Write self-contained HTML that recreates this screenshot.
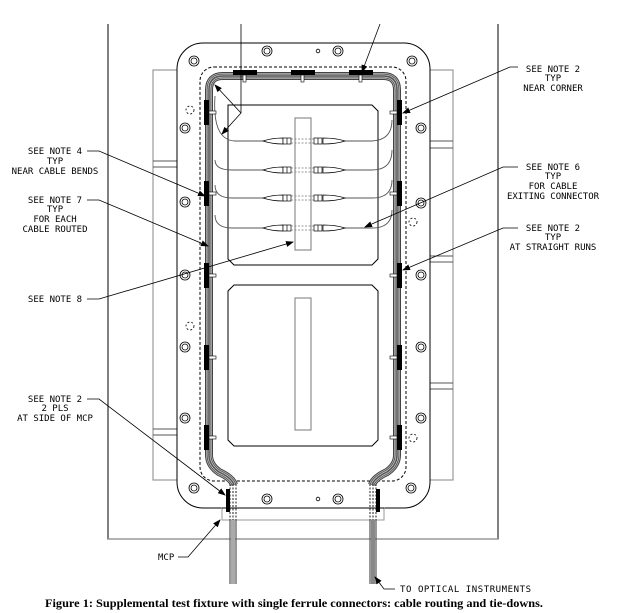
<!DOCTYPE html>
<html><head><meta charset="utf-8"><style>
html,body{margin:0;padding:0;background:#fff;}
svg{display:block;}
.t{font-family:"DejaVu Sans Mono","Liberation Mono",monospace;font-size:9px;fill:#000;}
</style></head><body>
<svg width="629" height="613" viewBox="0 0 629 613" xmlns="http://www.w3.org/2000/svg">
<defs>
<marker id="a" markerWidth="8" markerHeight="6" refX="7" refY="3" orient="auto" markerUnits="userSpaceOnUse"><path d="M0,0 L8,3 L0,6z" fill="#000"/></marker>
<path id="bp" d="M209,455 V90 Q209,76 223,76 H383 Q397,76 397,90 V455 Q397,465 387,472 Q374,478 372,485 M209,455 Q209,465 219,472 Q232,478 234,485" fill="none"/>
</defs>
<!-- background frame -->
<path d="M108,24 V539 H498 V24" fill="none" stroke="#000" stroke-width="1"/>
<path d="M108,539 H498" stroke="#999" stroke-width="1.5"/>
<!-- gray side plates -->
<rect x="153" y="70" width="300" height="410" fill="none" stroke="#999" stroke-width="1.2"/>
<path d="M153,161 H177 M153,167 H177 M153,429 H177 M153,435 H177 M430,141 H453 M430,148 H453 M430,256 H453 M430,262 H453 M430,383 H453 M430,389 H453" stroke="#555" stroke-width="1"/>
<!-- flange -->
<rect x="177" y="43" width="253" height="465" rx="26" fill="#fff" stroke="#000" stroke-width="1"/>
<rect x="200" y="67" width="206" height="414" rx="14" fill="none" stroke="#000" stroke-width="1" stroke-dasharray="3,2"/>
<!-- bolts -->
<g fill="none" stroke="#000" stroke-width="0.8">
<circle cx="267" cy="51" r="5"/><circle cx="267" cy="51" r="3"/>
<circle cx="338" cy="51" r="5"/><circle cx="338" cy="51" r="3"/>
<circle cx="318" cy="51" r="1.8"/>
<circle cx="194" cy="61" r="5"/><circle cx="194" cy="61" r="3"/>
<circle cx="412" cy="61" r="5"/><circle cx="412" cy="61" r="3"/>
<circle cx="185" cy="128" r="5"/><circle cx="185" cy="128" r="3"/>
<circle cx="185" cy="202" r="5"/><circle cx="185" cy="202" r="3"/>
<circle cx="185" cy="275" r="5"/><circle cx="185" cy="275" r="3"/>
<circle cx="185" cy="347" r="5"/><circle cx="185" cy="347" r="3"/>
<circle cx="185" cy="418" r="5"/><circle cx="185" cy="418" r="3"/>
<circle cx="421" cy="128" r="5"/><circle cx="421" cy="128" r="3"/>
<circle cx="421" cy="203" r="5"/><circle cx="421" cy="203" r="3"/>
<circle cx="421" cy="275" r="5"/><circle cx="421" cy="275" r="3"/>
<circle cx="421" cy="347" r="5"/><circle cx="421" cy="347" r="3"/>
<circle cx="421" cy="418" r="5"/><circle cx="421" cy="418" r="3"/>
<circle cx="194" cy="488" r="5"/><circle cx="194" cy="488" r="3"/>
<circle cx="411" cy="488" r="5"/><circle cx="411" cy="488" r="3"/>
<circle cx="267" cy="499" r="5"/><circle cx="267" cy="499" r="3"/>
<circle cx="338" cy="499" r="5"/><circle cx="338" cy="499" r="3"/>
<circle cx="318" cy="499" r="1.8"/>
<g stroke-dasharray="2,2"><circle cx="190" cy="110" r="4"/><circle cx="190" cy="326" r="4"/><circle cx="413" cy="222" r="4"/><circle cx="413" cy="438" r="4"/></g>
</g>
<!-- inner panels -->
<path d="M228,105 H372 L378,111 V259 L372,265 H234 L228,259 Z" fill="none" stroke="#000" stroke-width="1"/>
<path d="M234,285 H372 L378,291 V440 L372,446 H234 L228,440 V291 Z" fill="none" stroke="#000" stroke-width="1"/>
<rect x="295" y="118" width="16" height="132" fill="#fff" stroke="#777" stroke-width="1"/>
<rect x="295" y="298" width="16" height="132" fill="#fff" stroke="#777" stroke-width="1"/>
<!-- cable bundle -->
<use href="#bp" stroke="#444" stroke-width="8"/>
<use href="#bp" stroke="#bbb" stroke-width="6"/>
<use href="#bp" stroke="#444" stroke-width="4.5"/>
<use href="#bp" stroke="#ccc" stroke-width="3"/>
<use href="#bp" stroke="#555" stroke-width="1.5"/>
<!-- cables to connectors -->
<g fill="none" stroke="#555" stroke-width="0.9">
<path d="M215,96 Q212,140 235,141 H263 M345,141 H372 Q392,140 392,120"/>
<path d="M215,160 Q215,170 232,170 H263 M345,170 H372 Q392,170 392,150"/>
<path d="M215,185 Q215,198 232,198 H263 M345,198 H372 Q392,198 392,180"/>
<path d="M215,215 Q215,228 232,228 H263 M345,228 H372 Q392,228 392,210"/>
</g>
<g id="c1" stroke="#000" stroke-width="0.7" fill="#fff">
<path d="M263,141 Q272,138 283,138 V144 Q272,144 263,141Z"/><rect x="283" y="138" width="8" height="6"/><path d="M287,138 V144"/>
<path d="M345,141 Q336,138 323,138 V144 Q336,144 345,141Z"/><rect x="314" y="138" width="8" height="6"/><path d="M318,138 V144"/>
<path d="M291,139 H314 M291,143 H314" stroke="#777" stroke-dasharray="2,1.5"/>
</g>
<use href="#c1" y="29"/><use href="#c1" y="57"/><use href="#c1" y="87"/>
<!-- tie-downs -->
<g fill="#000">
<rect x="233" y="70" width="24" height="5"/><rect x="291" y="70" width="24" height="5"/><rect x="349" y="70" width="24" height="5"/>
<rect x="204" y="100" width="5" height="25"/><rect x="204" y="181" width="5" height="25"/><rect x="204" y="263" width="5" height="25"/><rect x="204" y="345" width="5" height="25"/><rect x="204" y="425" width="5" height="25"/>
<rect x="397" y="100" width="5" height="25"/><rect x="397" y="181" width="5" height="25"/><rect x="397" y="263" width="5" height="25"/><rect x="397" y="345" width="5" height="25"/><rect x="397" y="425" width="5" height="25"/>
</g>
<g fill="#fff" stroke="#000" stroke-width="0.6">
<rect x="209" y="111" width="7" height="3"/><rect x="209" y="192" width="7" height="3"/><rect x="209" y="274" width="7" height="3"/><rect x="209" y="356" width="7" height="3"/><rect x="209" y="436" width="7" height="3"/>
<rect x="390" y="111" width="7" height="3"/><rect x="390" y="192" width="7" height="3"/><rect x="390" y="274" width="7" height="3"/><rect x="390" y="356" width="7" height="3"/><rect x="390" y="436" width="7" height="3"/>
<rect x="243" y="75" width="3" height="7"/><rect x="301" y="75" width="3" height="7"/><rect x="359" y="75" width="3" height="7"/>
</g>
<!-- MCP -->
<rect x="222" y="508" width="162" height="12" fill="none" stroke="#999" stroke-width="1"/>
<path d="M222,508 H384" stroke="#000" stroke-width="1"/>
<g stroke="#444" stroke-width="1.2" stroke-dasharray="2,1.5">
<path d="M230,484 V520 M233,484 V520 M236,484 V520 M370,484 V520 M373,484 V520 M376,484 V520"/>
</g>
<rect x="226" y="489" width="4" height="23" fill="#000"/>
<rect x="376" y="489" width="4" height="23" fill="#000"/>
<g stroke="#555" stroke-width="1.2"><path d="M230,520 V584 M236,520 V584 M370,520 V584 M376,520 V584"/></g>
<rect x="231" y="520" width="4" height="64" fill="#aaa"/>
<rect x="371" y="520" width="4" height="64" fill="#888"/>
<!-- leaders -->
<g fill="none" stroke="#000" stroke-width="0.8" marker-end="url(#a)">
<path d="M241,24 V113 L222,134"/>
<path d="M241,113 L215,85"/>
<path d="M380,24 L362,72"/>
<path d="M87,151 H99 L205,196"/>
<path d="M87,200 H99 L208,246"/>
<path d="M87,299 H99 L293,242"/>
<path d="M87,399 H99 L225,495"/>
<path d="M518,67 H510 L403,113"/>
<path d="M518,167 H503 L365,227"/>
<path d="M518,228 H503 L403,270"/>
<path d="M178,557 H188 L220,520"/>
<path d="M395,589 H384 L375,577"/>
</g>
<!-- labels -->
<g class="t" text-anchor="middle">
<text x="55" y="154">SEE NOTE 4</text><text x="55" y="164">TYP</text><text x="55" y="174">NEAR CABLE BENDS</text>
<text x="55" y="203">SEE NOTE 7</text><text x="55" y="212">TYP</text><text x="55" y="222">FOR EACH</text><text x="55" y="232">CABLE ROUTED</text>
<text x="55" y="302">SEE NOTE 8</text>
<text x="55" y="402">SEE NOTE 2</text><text x="55" y="411">2 PLS</text><text x="55" y="421">AT SIDE OF MCP</text>
<text x="553" y="72">SEE NOTE 2</text><text x="553" y="81">TYP</text><text x="553" y="91">NEAR CORNER</text>
<text x="553" y="170">SEE NOTE 6</text><text x="553" y="179">TYP</text><text x="553" y="189">FOR CABLE</text><text x="553" y="199">EXITING CONNECTOR</text>
<text x="553" y="231">SEE NOTE 2</text><text x="553" y="240">TYP</text><text x="553" y="250">AT STRAIGHT RUNS</text>
</g>
<text class="t" x="158" y="560">MCP</text>
<text class="t" x="400" y="592" textLength="131">TO OPTICAL INSTRUMENTS</text>
<text x="45" y="607" font-family="Liberation Serif, serif" font-weight="bold" font-size="12" textLength="498" lengthAdjust="spacingAndGlyphs">Figure 1: Supplemental test fixture with single ferrule connectors: cable routing and tie-downs.</text>
</svg>
</body></html>
